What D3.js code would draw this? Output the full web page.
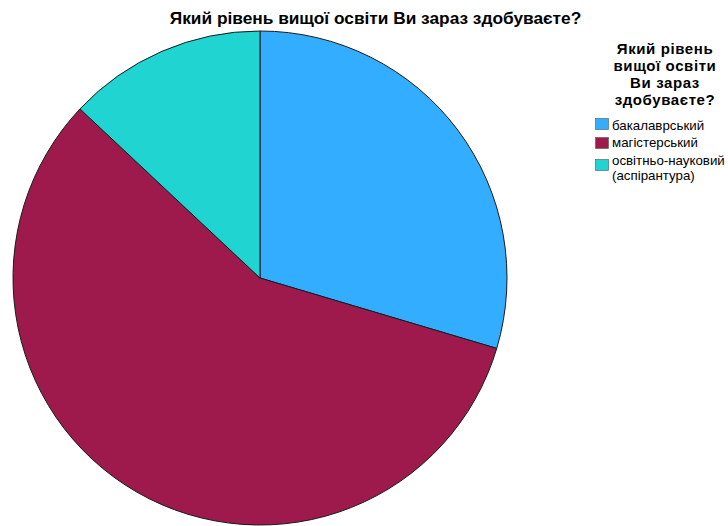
<!DOCTYPE html>
<html>
<head>
<meta charset="utf-8">
<script src="https://cdn.jsdelivr.net/npm/d3@7"></script>
<style>
  html, body { margin: 0; padding: 0; background: #fff; }
  svg { display: block; }
  text { font-family: "Liberation Sans", Arial, sans-serif; }
</style>
</head>
<body>
<svg id="chart" width="728" height="526"></svg>
<script>
// Shares of respondents by level of higher education currently pursued (%)
const categories = ["бакалаврський", "магістерський", "освітньо-науковий (аспірантура)"];
const legendLines = [["бакалаврський"], ["магістерський"], ["освітньо-науковий", "(аспірантура)"]];
const values = [29.6, 57.4, 13.0];
const colors = ["#33adff", "#9e1a4d", "#20d4d2"];
const chartTitle = "Який рівень вищої освіти Ви зараз здобуваєте?";
const legendTitle = ["Який рівень", "вищої освіти", "Ви зараз", "здобуваєте?"];

const svg = d3.select("#chart");

// Title
svg.append("text")
  .attr("x", 375.5).attr("y", 24)
  .attr("text-anchor", "middle")
  .attr("font-size", 17.3).attr("font-weight", "bold")
  .attr("fill", "#000")
  .text(chartTitle);

// Pie
const cx = 260, cy = 278, r = 247;
const pie = d3.pie().sort(null).value(d => d)
  .startAngle(0).endAngle(2 * Math.PI);
const arc = d3.arc().innerRadius(0).outerRadius(r);
const color = d3.scaleOrdinal().domain(categories).range(colors);

svg.append("g")
  .attr("transform", `translate(${cx},${cy})`)
  .selectAll("path")
  .data(pie(values))
  .join("path")
  .attr("d", arc)
  .attr("fill", (d, i) => color(categories[i]))
  .attr("stroke", "#1a1a1a")
  .attr("stroke-width", 1)
  .attr("stroke-linejoin", "round");

// Legend: wrapped title, one line per tspan
const lg = svg.append("g");
lg.append("text")
  .attr("text-anchor", "middle")
  .attr("font-size", 15).attr("font-weight", "bold")
  .attr("letter-spacing", 0.6)
  .attr("fill", "#000")
  .selectAll("tspan")
  .data(legendTitle)
  .join("tspan")
  .attr("x", 665)
  .attr("y", (d, i) => 53.5 + i * 17.3)
  .text(d => d);

const baseY = [130, 147, 165];
const swatchY = [118, 137, 159];
categories.forEach((c, i) => {
  lg.append("rect")
    .attr("x", 595.5).attr("y", swatchY[i] + 0.5)
    .attr("width", 13).attr("height", 11)
    .attr("fill", color(c))
    .attr("stroke", "#555").attr("stroke-width", 0.6);
  const t = lg.append("text")
    .attr("font-size", 13.3)
    .attr("fill", "#000");
  t.selectAll("tspan")
    .data(legendLines[i])
    .join("tspan")
    .attr("x", 612)
    .attr("y", (d, j) => baseY[i] + j * 15)
    .text(d => d);
});
</script>
</body>
</html>
